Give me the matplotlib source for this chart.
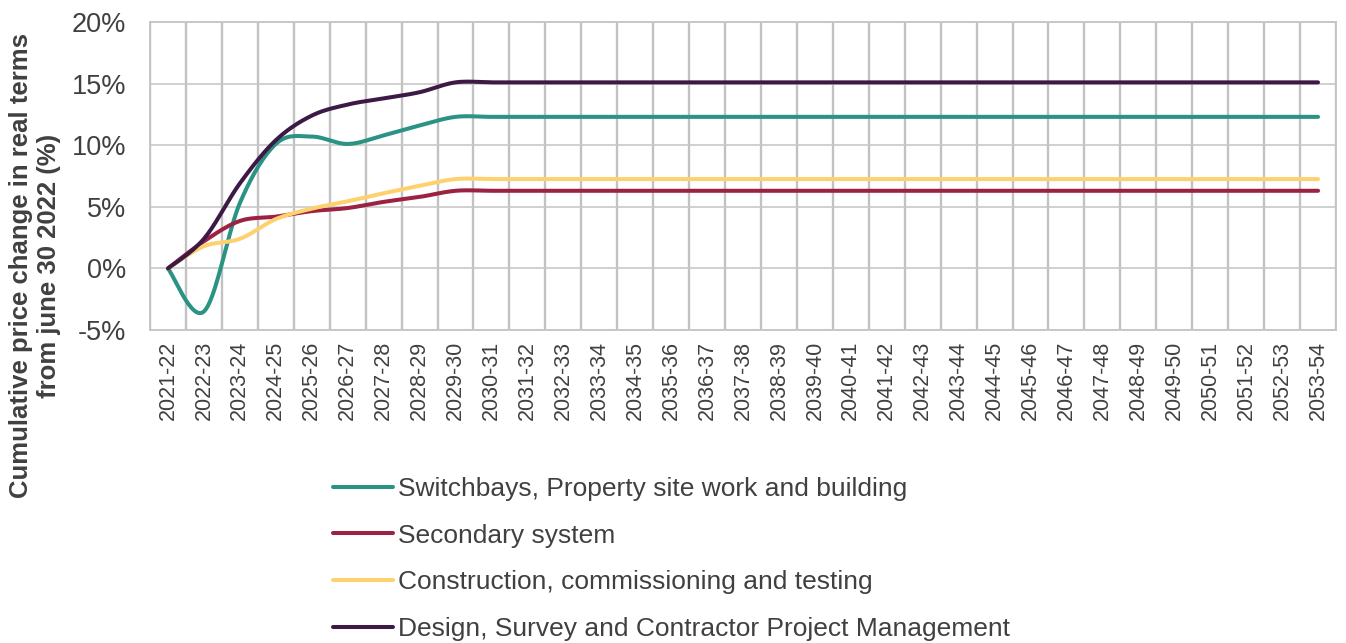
import numpy as np
import matplotlib.pyplot as plt
from matplotlib.ticker import FuncFormatter, MultipleLocator

plt.rcParams['font.family'] = ['Liberation Sans', 'DejaVu Sans']

years = ['%d-%02d' % (y, (y + 1) % 100) for y in range(2021, 2054)]
n_flat = len(years) - 9

switchbays = [0, -3.5, 5.3, 10.1, 10.7, 10.1, 10.8, 11.6, 12.3] + [12.3] * n_flat
secondary = [0, 2.2, 3.85, 4.2, 4.65, 4.9, 5.4, 5.8, 6.3] + [6.3] * n_flat
construction = [0, 1.8, 2.4, 4.0, 4.85, 5.45, 6.1, 6.7, 7.25] + [7.25] * n_flat
design = [0, 2.4, 6.9, 10.4, 12.4, 13.3, 13.8, 14.3, 15.1] + [15.1] * n_flat

series = [
    ('Switchbays, Property site work and building', switchbays, '#2a9384'),
    ('Secondary system', secondary, '#9b2242'),
    ('Construction, commissioning and testing', construction, '#fdd26e'),
    ('Design, Survey and Contractor Project Management', design, '#3d1a45'),
]


def smooth(x, y, steps=20):
    # Excel-style smoothed line: cubic Bezier with Catmull-Rom control points
    x = np.asarray(x, float)
    y = np.asarray(y, float)
    px = np.concatenate([[x[0]], x, [x[-1]]])
    py = np.concatenate([[y[0]], y, [y[-1]]])
    xs, ys = [], []
    t = np.linspace(0, 1, steps)
    for i in range(len(x) - 1):
        p0 = np.array([px[i + 1], py[i + 1]])
        p3 = np.array([px[i + 2], py[i + 2]])
        c1 = p0 + (np.array([px[i + 2], py[i + 2]]) - np.array([px[i], py[i]])) / 6
        c2 = p3 - (np.array([px[i + 3], py[i + 3]]) - np.array([px[i + 1], py[i + 1]])) / 6
        b = ((1 - t) ** 3)[:, None] * p0 + (3 * (1 - t) ** 2 * t)[:, None] * c1 \
            + (3 * (1 - t) * t ** 2)[:, None] * c2 + (t ** 3)[:, None] * p3
        xs.extend(b[:, 0])
        ys.extend(b[:, 1])
    return xs, ys


fig = plt.figure(figsize=(13.46, 6.43), dpi=100)
ax = fig.add_axes([150 / 1346, 1 - 330 / 643, 1186 / 1346, 308 / 643])

x = np.arange(len(years))
for label, vals, color in series:
    sx, sy = smooth(x, vals)
    ax.plot(sx, sy, color=color, lw=2.9, label=label, solid_capstyle='round')

ax.set_xlim(-0.5, len(years) - 0.5)
ax.set_ylim(-5, 20)
ax.yaxis.set_major_locator(MultipleLocator(5))
ax.yaxis.set_major_formatter(FuncFormatter(lambda v, p: '%d%%' % v))
ax.set_xticks(x)
ax.set_xticklabels(years, rotation=90)
ax.set_xticks(np.arange(len(years) + 1) - 0.5, minor=True)
ax.grid(True, which='minor', axis='x', color='#c2c2c2', lw=1.7)
ax.grid(True, which='major', axis='y', color='#c8c8c8', lw=1.2)
ax.set_axisbelow(True)
ax.tick_params(axis='both', which='both', length=0, colors='#404040')
ax.tick_params(axis='y', labelsize=19.5, pad=17)
ax.tick_params(axis='x', labelsize=15.5, pad=8)
for s in ax.spines.values():
    s.set_color('#c4c4c4')
    s.set_linewidth(1.3)

fig.text(0.026, 1 - 266 / 643, 'Cumulative price change in real terms\nfrom june 30 2022 (%)',
         rotation=90, ha='center', va='center', fontsize=18.5, fontweight='bold',
         color='#404040', multialignment='center')

leg = fig.legend(loc='upper left', bbox_to_anchor=(333 / 1346, 1 - 477 / 643),
                 frameon=False, fontsize=19, handlelength=2.27, handletextpad=0.2,
                 labelspacing=0.86, borderpad=0, borderaxespad=0)
for t in leg.get_texts():
    t.set_color('#404040')

plt.savefig('out.png', dpi=100)
